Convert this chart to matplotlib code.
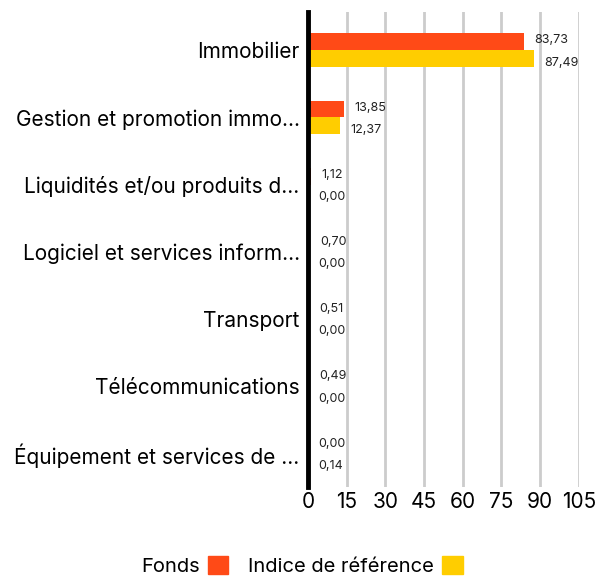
import numpy as np
import matplotlib.pyplot as plt
from matplotlib.patches import Patch

plt.rcParams['font.family'] = ['Inter', 'DejaVu Sans']

categories = ["Immobilier", "Gestion et promotion immo...", "Liquidités et/ou produits d...",
              "Logiciel et services inform...", "Transport", "Télécommunications",
              "Équipement et services de ..."]
fonds = [83.73, 13.85, 1.12, 0.70, 0.51, 0.49, 0.00]
indice = [87.49, 12.37, 0.00, 0.00, 0.00, 0.00, 0.14]
ticks = [0, 15, 30, 45, 60, 75, 90, 105]

red = "#ff4a17"
yellow = "#ffcd00"

fig = plt.figure(figsize=(5.98, 5.79), dpi=100)
ax = fig.add_axes([0.515, 0.159, 0.453, 0.820])

y = np.arange(len(categories))
h = 0.25
ax.barh(y - h / 2, fonds, height=h, color=red, zorder=3)
ax.barh(y + h / 2, indice, height=h, color=yellow, zorder=3)

def fmt(v):
    return f"{v:.2f}".replace(".", ",")

for yi, v in zip(y, fonds):
    ax.text(v + 4, yi - h / 2 - 0.02, fmt(v), fontsize=9, va="center", ha="left", color="#222222")
for yi, v in zip(y, indice):
    ax.text(v + 4, yi + h / 2 + 0.06, fmt(v), fontsize=9, va="center", ha="left", color="#222222")

ax.set_xlim(0, 105)
ax.set_ylim(len(categories) - 0.5, -0.565)
ax.set_xticks(ticks)
ax.set_xticklabels([str(t) for t in ticks], fontsize=15)
ax.set_yticks(y)
ax.set_yticklabels(categories, fontsize=15)
ax.tick_params(length=0, pad=6)
ax.tick_params(axis="x", pad=4)

for t in ticks[1:]:
    ax.axvline(t, color="#cccccc", lw=2, zorder=1)
for s in ["top", "right", "bottom"]:
    ax.spines[s].set_visible(False)
ax.spines["left"].set_linewidth(3.5)
ax.spines["left"].set_color("black")
ax.spines["left"].set_zorder(4)

handles = [Patch(color=red, label="Fonds"), Patch(color=yellow, label="Indice de référence")]
fig.legend(handles=handles, loc="center", bbox_to_anchor=(0.505, 0.023), ncol=2, frameon=False,
           markerfirst=False, fontsize=14.5, handlelength=1.0, handleheight=1.0, columnspacing=1.0,
           handletextpad=0.4)

fig.savefig("out.png", dpi=100)
